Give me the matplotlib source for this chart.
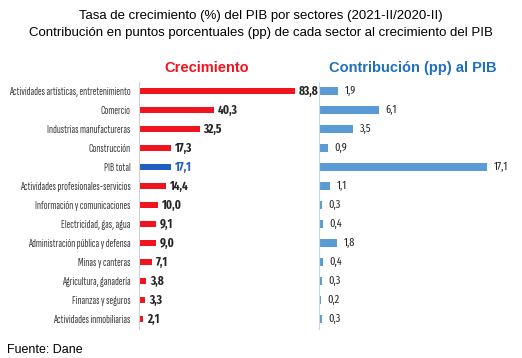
import matplotlib
matplotlib.use('Agg')
import matplotlib.pyplot as plt

# Data
sectores = ['Actividades artísticas, entretenimiento', 'Comercio', 'Industrias manufactureras',
            'Construcción', 'PIB total', 'Actividades profesionales-servicios',
            'Información y comunicaciones', 'Electricidad, gas, agua',
            'Administración pública y defensa', 'Minas y canteras',
            'Agricultura, ganadería', 'Finanzas y seguros', 'Actividades inmobiliarias']
crecimiento = [83.8, 40.3, 32.5, 17.3, 17.1, 14.4, 10.0, 9.1, 9.0, 7.1, 3.8, 3.3, 2.1]
contribucion = [1.9, 6.1, 3.5, 0.9, 17.1, 1.1, 0.3, 0.4, 1.8, 0.4, 0.3, 0.2, 0.3]

red = '#F0141E'
blue_total = '#1F5FBF'
blue = '#5B9BD5'
label_font = ['Sofia Sans Extra Condensed', 'DejaVu Sans']
value_font = ['Fira Sans Extra Condensed', 'DejaVu Sans']

fig = plt.figure(figsize=(5.22, 3.58), dpi=100)
W, H = 522, 358

def px_axes(x0, x1, y_top, y_bot):
    return fig.add_axes([x0 / W, 1 - y_bot / H, (x1 - x0) / W, (y_bot - y_top) / H])

y = list(range(len(sectores)))
fmt = lambda v: f'{v:.1f}'.replace('.', ',')

# Left panel: growth rate
ax1 = px_axes(139, 316, 81.5, 328.5)
cols = [blue_total if s == 'PIB total' else red for s in sectores]
ax1.barh(y, crecimiento, height=0.36, color=cols)
ax1.set_xlim(0, 95)
ax1.set_ylim(len(sectores) - 0.5, -0.5)
ax1.set_yticks(y)
ax1.set_yticklabels(sectores, fontsize=8.3, color='#404040', family=label_font)
ax1.tick_params(axis='y', length=0, pad=6)
ax1.set_xticks([])
for sp in ['top', 'right', 'bottom']:
    ax1.spines[sp].set_visible(False)
ax1.spines['left'].set_color('#D0D0D0')
for yi, v, c in zip(y, crecimiento, cols):
    ax1.text(v + 2.2, yi, fmt(v), va='center', ha='left', fontsize=8.8, fontweight='bold',
             color=blue_total if c == blue_total else '#262626', family=value_font)

# Right panel: contribution in pp
ax2 = px_axes(319, 515, 81.5, 328.5)
ax2.barh(y, contribucion, height=0.38, color=blue)
ax2.set_xlim(0, 20)
ax2.set_ylim(len(sectores) - 0.5, -0.5)
ax2.set_xticks([])
ax2.set_yticks([])
for sp in ['top', 'right', 'bottom']:
    ax2.spines[sp].set_visible(False)
ax2.spines['left'].set_color('#C8D8EC')
for yi, v in zip(y, contribucion):
    ax2.text(v + 0.7, yi, fmt(v), va='center', ha='left', fontsize=8,
             color='#262626', family=value_font)

# Titles
fig.text(0.5, 1 - 16 / H, 'Tasa de crecimiento (%) del PIB por sectores (2021-II/2020-II)',
         ha='center', va='center', fontsize=9.5, family='Liberation Sans')
fig.text(0.5, 1 - 33 / H, 'Contribución en puntos porcentuales (pp) de cada sector al crecimiento del PIB',
         ha='center', va='center', fontsize=9.5, family='Liberation Sans')
fig.text(207 / W, 1 - 68 / H, 'Crecimiento', ha='center', va='center', fontsize=10.5,
         fontweight='bold', color=red, family='Liberation Sans')
fig.text(413 / W, 1 - 68 / H, 'Contribución (pp) al PIB', ha='center', va='center', fontsize=10.5,
         fontweight='bold', color='#1F6FBF', family='Liberation Sans')
fig.text(7 / W, 1 - 350 / H, 'Fuente: Dane', ha='left', va='center', fontsize=9,
         family='Liberation Sans')

fig.savefig('out.png', dpi=100)
